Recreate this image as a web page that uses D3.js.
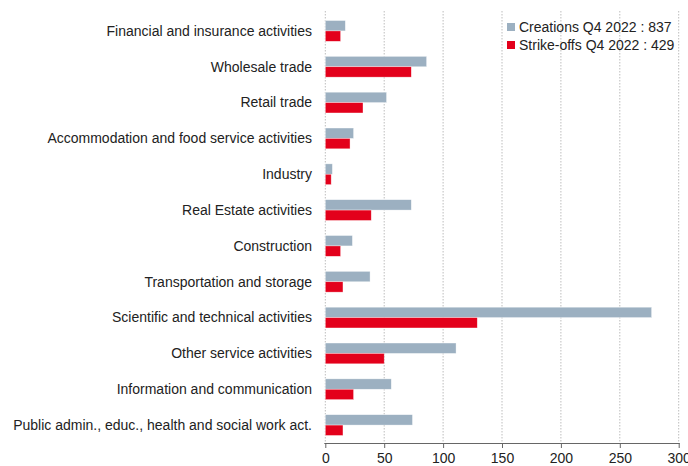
<!DOCTYPE html>
<html><head><meta charset="utf-8">
<script src="https://cdn.jsdelivr.net/npm/d3@7"></script>
<style>
body{margin:0;background:#fff;}
text{font-family:"Liberation Sans",Arial,Helvetica,sans-serif;}
</style></head>
<body><svg id="c" width="688" height="466"></svg>
<script>
const categories = ["Financial and insurance activities","Wholesale trade","Retail trade","Accommodation and food service activities","Industry","Real Estate activities","Construction","Transportation and storage","Scientific and technical activities","Other service activities","Information and communication","Public admin., educ., health and social work act."];
const creations = [17,86,52,24,6,73,23,38,277,111,56,74];
const strikeOffs = [13,73,32,21,5,39,13,15,129,50,24,15];
const seriesNames = ["Creations Q4 2022 : 837","Strike-offs Q4 2022 : 429"];
const xTicks = [0,50,100,150,200,250,300];
const colors = ["#9cb0c1","#e3001b"];

const svg = d3.select("#c");
const mLeft = 325.3, mRight = 678.7, mTop = 13, mBottom = 443;
const x = d3.scaleLinear().domain([0,300]).range([mLeft,mRight]);
const y = d3.scaleBand().domain(categories).range([mTop,mBottom]).paddingInner(0.42).paddingOuter(0.21);
const y1 = d3.scaleBand().domain([0,1]).range([0,y.bandwidth()]);

// gridlines
svg.append("g").selectAll("line").data(xTicks).join("line")
  .attr("x1",d=>x(d)).attr("x2",d=>x(d)).attr("y1",11).attr("y2",mBottom)
  .attr("stroke","#bdbdbd").attr("stroke-width",1).attr("stroke-dasharray","1.5,1.5");

// bars
const g = svg.append("g");
const series = [creations, strikeOffs];
series.forEach((vals,si)=>{
  g.append("g").selectAll("rect").data(vals).join("rect")
    .attr("x",x(0)).attr("y",(d,i)=>y(categories[i])+y1(si))
    .attr("width",d=>x(d)-x(0)).attr("height",y1.bandwidth())
    .attr("fill",colors[si]).attr("stroke","#fff").attr("stroke-opacity",0.6).attr("stroke-width",0.6);
});

// x axis
const ax = svg.append("g").attr("transform",`translate(0,${mBottom})`)
  .call(d3.axisBottom(x).tickValues(xTicks).tickSize(5).tickPadding(5));
ax.select(".domain").attr("stroke","#666").attr("d",`M${mLeft-1},0.5H${mRight+1}`);
ax.selectAll(".tick line").attr("stroke","#666");
ax.selectAll("text").attr("font-size",14).attr("fill","#222").attr("font-family","Liberation Sans, Arial, sans-serif");

// category labels
svg.append("g").selectAll("text").data(categories).join("text")
  .attr("x",312).attr("y",d=>y(d)+y.bandwidth()/2).attr("dy","0.35em")
  .attr("text-anchor","end").attr("font-size",14).attr("fill","#222").text(d=>d);

// legend
const lg = svg.append("g");
seriesNames.forEach((n,i)=>{
  lg.append("rect").attr("x",507).attr("y",23+i*18).attr("width",8).attr("height",8).attr("fill",colors[i]);
  lg.append("text").attr("x",519).attr("y",27+i*18).attr("dy","0.35em").attr("font-size",14).attr("fill","#222").text(n);
});
</script></body></html>
